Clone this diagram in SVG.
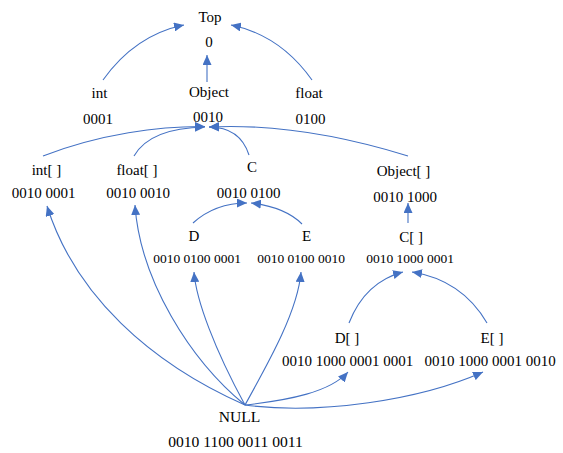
<svg xmlns="http://www.w3.org/2000/svg" width="563" height="453" viewBox="0 0 563 453">
<style>
text{font-family:"Liberation Serif","Times New Roman",serif;font-size:15px;fill:#000;text-anchor:middle}
.s{font-size:13.5px}
.l{font-size:15.6px}
.e{fill:none;stroke:#4472C4;stroke-width:1.1;marker-end:url(#ah)}
</style>
<defs>
<marker id="ah" markerUnits="userSpaceOnUse" markerWidth="11" markerHeight="9" refX="10" refY="4.5" orient="auto" viewBox="0 0 11 9">
<path d="M0,0 L10,4.5 L0,9 z" fill="#4472C4"/>
</marker>
</defs>
<rect width="563" height="453" fill="#fff"/>
<g id="connectors">
<path class="e" d="M103,80 Q135,35 184,25"/>
<path class="e" d="M312,80 Q280,35 231,25"/>
<path class="e" d="M207,82 L207,55"/>
<path class="e" d="M43,156 C100,134 160,126 205,126.5"/>
<path class="e" d="M134,156 Q150,128 205,127"/>
<path class="e" d="M249,155 Q240,127 209,127"/>
<path class="e" d="M408,156 C340,135 270,124 209,127"/>
<path class="e" d="M193,223 Q215,203 247,203"/>
<path class="e" d="M302,224 Q285,207 251,203"/>
<path class="e" d="M408,223 L408,203"/>
<path class="e" d="M349,323 Q365,282 403,272"/>
<path class="e" d="M487,323 Q462,280 412,272"/>
<path class="e" d="M245,405 C150,363 75,295 47,206"/>
<path class="e" d="M245,405 C190,360 140,280 135,205"/>
<path class="e" d="M245,405 C215,350 196,300 194,272"/>
<path class="e" d="M245,405 C270,360 298,310 301,272"/>
<path class="e" d="M245,405 C290,400 330,392 348,372"/>
<path class="e" d="M245,405 C320,415 420,400 483,372"/>
</g>
<g id="top"><text x="210" y="22">Top</text><text x="209" y="47">0</text></g>
<g id="int"><text x="99.5" y="98">int</text><text x="98" y="124">0001</text></g>
<g id="object"><text x="209" y="97">Object</text><text x="208" y="122">0010</text></g>
<g id="float"><text x="309" y="98">float</text><text x="310.5" y="124">0100</text></g>
<g id="int-array"><text x="46.5" y="175">int[ ]</text><text x="43.5" y="198">0010 0001</text></g>
<g id="float-array"><text x="137" y="175">float[ ]</text><text x="138" y="198">0010 0010</text></g>
<g id="c"><text x="252" y="172">C</text><text x="248.5" y="198">0010 0100</text></g>
<g id="object-array"><text x="403.5" y="176">Object[ ]</text><text x="405" y="202">0010 1000</text></g>
<g id="d"><text x="194" y="241">D</text><text class="s" x="197" y="263">0010 0100 0001</text></g>
<g id="e"><text x="306.5" y="241">E</text><text class="s" x="301" y="263">0010 0100 0010</text></g>
<g id="c-array"><text x="411" y="242">C[ ]</text><text class="s" x="410" y="263">0010 1000 0001</text></g>
<g id="d-array"><text x="347" y="343">D[ ]</text><text x="347.5" y="366">0010 1000 0001 0001</text></g>
<g id="e-array"><text x="492" y="343">E[ ]</text><text x="490" y="366">0010 1000 0001 0010</text></g>
<g id="null"><text class="l" x="239.5" y="422">NULL</text><text class="l" x="235.5" y="447">0010 1100 0011 0011</text></g>
</svg>
